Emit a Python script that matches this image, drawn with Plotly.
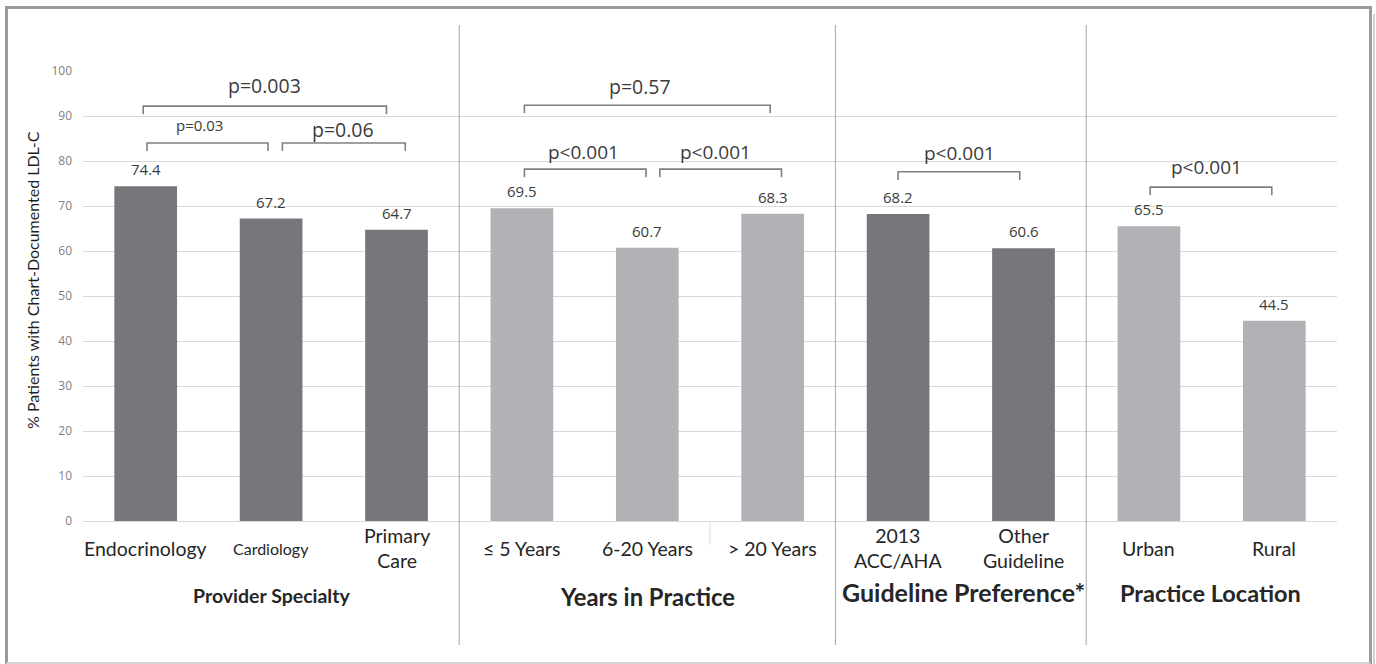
import plotly.graph_objects as go

# ---------------- data ----------------
categories = ["Endocrinology", "Cardiology", "Primary<br>Care",
              "≤ 5 Years", "6-20 Years", "> 20 Years",
              "2013<br>ACC/AHA", "Other<br>Guideline",
              "Urban", "Rural"]
values = [74.4, 67.2, 64.7, 69.5, 60.7, 68.3, 68.2, 60.6, 65.5, 44.5]
shade = ["dark", "dark", "dark", "light", "light", "light", "dark", "dark", "light", "light"]
cat_font_sizes = [19.5, 16, 19.5, 19.5, 19.5, 19.5, 19.5, 19.5, 19.5, 19.5]

groups = ["Provider Specialty", "Years in Practice", "Guideline Preference*", "Practice Location"]
group_centers = [1.0, 4.0, 6.52, 8.49]
group_font_sizes = [19.5, 23.8, 25, 23.5]
group_y_px = [595, 597, 592, 593]
dividers = [2.5, 5.5, 7.5]

# brackets: (x start, x end, y level, label, label x, label y, font size)
brackets = [
    (-0.02, 1.92, 92.2, "p=0.003", 0.95, 96.8, 19.5),
    (0.01, 0.975, 84.0, "p=0.03", 0.43, 88.0, 15),
    (1.09, 2.07, 84.0, "p=0.06", 1.57, 86.9, 19.5),
    (3.02, 4.98, 92.4, "p=0.57", 3.94, 96.5, 19.5),
    (3.02, 3.99, 78.2, "p<0.001", 3.49, 82.0, 19),
    (4.10, 5.07, 78.2, "p<0.001", 4.54, 82.0, 19),
    (6.00, 6.97, 77.6, "p<0.001", 6.49, 81.8, 19),
    (8.01, 8.98, 74.2, "p<0.001", 8.46, 78.6, 19),
]

yticks = [0, 10, 20, 30, 40, 50, 60, 70, 80, 90, 100]
y_title = "% Patients with Chart-Documented LDL-C"

# ---------------- styling ----------------
COLORS = {"dark": "#77777b", "light": "#b2b2b6"}
TXT = "#3b3b3b"
W, H = 1376, 664
L, R, T, B = 83, 39, 71, 143
PW, PH = W - L - R, H - T - B

def py2paper(py):
    return (H - B - py) / PH

def px2paper(px):
    return (px - L) / PW

xs = list(range(len(categories)))

fig = go.Figure()
fig.add_trace(go.Bar(
    x=xs, y=values, width=0.5,
    marker=dict(color=[COLORS[s] for s in shade], line=dict(width=0)),
    hoverinfo="skip", showlegend=False,
))

# brackets as lines
bx, by = [], []
drop = 1.8
for x0, x1, yl, lab, lx, ly, fs in brackets:
    bx += [x0, x0, x1, x1, None]
    by += [yl - drop, yl, yl, yl - drop, None]
fig.add_trace(go.Scatter(x=bx, y=by, mode="lines",
                         line=dict(color="#808080", width=1.6),
                         hoverinfo="skip", showlegend=False, cliponaxis=False))

annotations = []
# value labels
for x, v in zip(xs, values):
    annotations.append(dict(x=x, y=v, xref="x", yref="y", text=f"{v:.1f}",
                            showarrow=False, yanchor="bottom", yshift=5,
                            font=dict(family="Open Sans", size=15, color=TXT)))
# bracket labels
for x0, x1, yl, lab, lx, ly, fs in brackets:
    annotations.append(dict(x=lx, y=ly, xref="x", yref="y", text=lab,
                            showarrow=False, yanchor="middle",
                            font=dict(family="Open Sans", size=fs, color=TXT)))
# category labels
for x, c, fs in zip(xs, categories, cat_font_sizes):
    annotations.append(dict(x=x, y=py2paper(548), xref="x", yref="paper", text=c,
                            showarrow=False, yanchor="middle",
                            font=dict(family="Lato", size=fs, color="#262626")))
# group titles
for g, gc, fs, gy in zip(groups, group_centers, group_font_sizes, group_y_px):
    annotations.append(dict(x=gc, y=py2paper(gy), xref="x", yref="paper",
                            text=f"<b>{g}</b>", showarrow=False, yanchor="middle",
                            font=dict(family="Lato", size=fs, color="#262626")))
# y-axis title
annotations.append(dict(x=px2paper(32), y=py2paper(280), xref="paper", yref="paper",
                        text=y_title, textangle=-90, showarrow=False,
                        xanchor="center", yanchor="middle",
                        font=dict(family="Lato", size=16, color="#1f1f1f")))

shapes = []
for d in dividers:
    shapes.append(dict(type="line", xref="x", yref="paper", x0=d, x1=d,
                       y0=py2paper(645), y1=py2paper(25),
                       line=dict(color="#a6a6a6", width=1)))
# small category tick
shapes.append(dict(type="line", xref="x", yref="paper", x0=4.5, x1=4.5,
                   y0=py2paper(545), y1=0, line=dict(color="#d9d9d9", width=1)))
# outer frame: left, top, right dark; bottom light; right shadow
frame_dark = "#9b9b9b"
for (x0, y0, x1, y1, col, wd) in [
    (6.5, 7.5, 6.5, 664, frame_dark, 3),
    (5, 7.5, 1372, 7.5, frame_dark, 3),
    (1370.5, 6, 1370.5, 664, frame_dark, 3),
    (6.5, 663, 1370, 663, "#d4d4d4", 2),
    (1374, 14, 1374, 664, "#cfcfcf", 2),
]:
    shapes.append(dict(type="line", xref="paper", yref="paper",
                       x0=px2paper(x0), x1=px2paper(x1),
                       y0=py2paper(y0), y1=py2paper(y1),
                       line=dict(color=col, width=wd), layer="above"))

fig.update_layout(
    width=W, height=H,
    margin=dict(l=L, r=R, t=T, b=B),
    paper_bgcolor="white", plot_bgcolor="white",
    bargap=0.5,
    xaxis=dict(range=[-0.5, 9.5], tickvals=xs, showticklabels=False,
               showgrid=False, zeroline=False, showline=False, ticks=""),
    yaxis=dict(range=[0, 100], tickvals=yticks, showgrid=True,
               gridcolor="#d9d9d9", gridwidth=1, zeroline=True,
               zerolinecolor="#d9d9d9", zerolinewidth=1, showline=False,
               tickfont=dict(family="Open Sans", size=12, color="#7f7f7f"),
               ticklabelstandoff=10),
    annotations=annotations,
    shapes=shapes,
    showlegend=False,
)

fig.write_html("out.html", config={"displayModeBar": False},
               post_script="document.body.style.margin='0';document.body.style.overflow='hidden';")
